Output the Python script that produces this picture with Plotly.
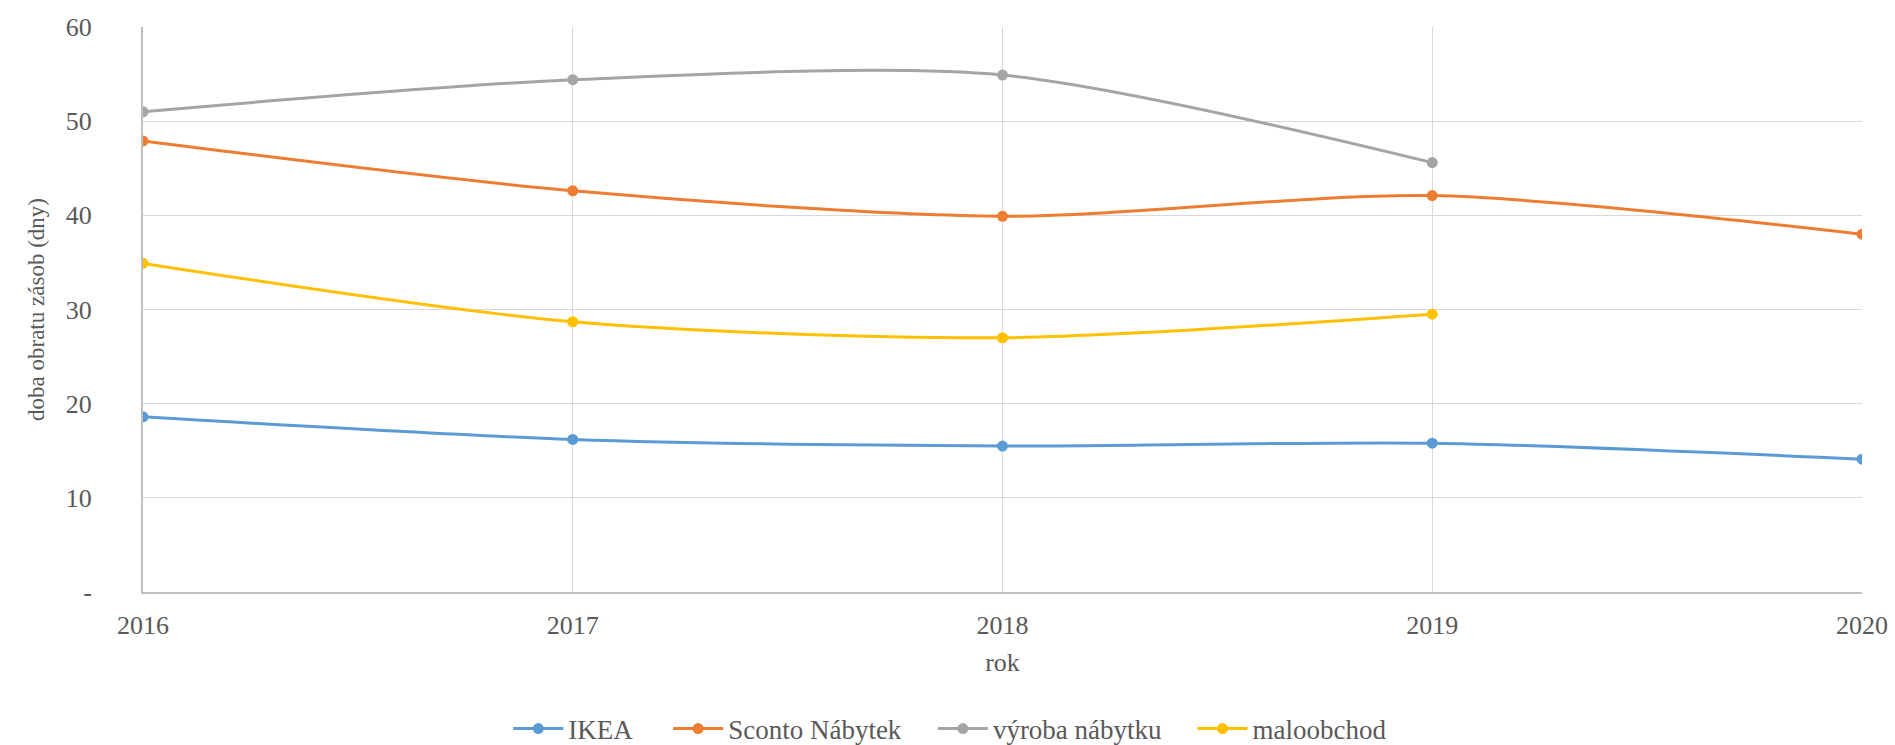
import plotly.graph_objects as go

years = [2016, 2017, 2018, 2019, 2020]
ikea = [18.6, 16.2, 15.5, 15.8, 14.1]
sconto = [47.9, 42.6, 39.9, 42.1, 38.0]
vyroba = [51.0, 54.4, 54.9, 45.6]
maloobchod = [34.9, 28.7, 27.0, 29.5]

series = [
    ("IKEA", years, ikea, "#5B9BD5"),
    ("Sconto Nábytek", years, sconto, "#ED7D31"),
    ("výroba nábytku", years[:4], vyroba, "#A5A5A5"),
    ("maloobchod", years[:4], maloobchod, "#FFC000"),
]
# legend entry left edges (paper fraction of plot width)
legend_x = [0.2125, 0.3055, 0.4595, 0.6105]

y_ticks = [0, 10, 20, 30, 40, 50, 60]
y_ticktext = ["-", "10", "20", "30", "40", "50", "60"]

FONT = "Liberation Serif"
GREY = "#595959"

fig = go.Figure()
legend_layout = {}
for i, (name, xs, ys, col) in enumerate(series):
    lname = "legend" if i == 0 else f"legend{i+1}"
    fig.add_trace(go.Scatter(
        x=xs, y=ys, name=name, mode="lines+markers", legend=lname,
        line=dict(color=col, width=3, shape="spline", smoothing=0.8),
        marker=dict(color=col, size=11),
    ))
    legend_layout[lname] = dict(
        orientation="h", x=legend_x[i], xanchor="left", y=-0.2425, yanchor="middle",
        font=dict(family=FONT, color=GREY, size=27), itemwidth=50,
        bgcolor="rgba(0,0,0,0)",
    )

tick_font = dict(family=FONT, color=GREY, size=26)
fig.update_layout(
    width=1895, height=745,
    paper_bgcolor="white", plot_bgcolor="white",
    margin=dict(l=143, r=33, t=27, b=153, autoexpand=False),
    font=dict(family=FONT, color=GREY, size=26),
    showlegend=True,
    xaxis=dict(range=[2016, 2020], tickvals=years, ticktext=[str(y) for y in years],
               tickfont=tick_font, automargin=False,
               showgrid=True, gridcolor="#d9d9d9", gridwidth=1,
               showline=True, linecolor="#bfbfbf", linewidth=2,
               zeroline=False, ticks="", ticklabelstandoff=9,
               title=dict(text="rok", font=dict(family=FONT, color=GREY, size=26), standoff=14)),
    yaxis=dict(range=[0, 60], tickvals=y_ticks, ticktext=y_ticktext,
               tickfont=tick_font, automargin=False,
               showgrid=True, gridcolor="#d9d9d9", gridwidth=1,
               showline=True, linecolor="#bfbfbf", linewidth=2,
               zeroline=False, ticks="", ticklabelstandoff=44,
               title=dict(text="doba obratu zásob (dny)", font=dict(family=FONT, color=GREY, size=23), standoff=15)),
    **legend_layout,
)
fig.write_html("out.html", config={"displayModeBar": False},
               post_script="document.body.style.margin='0';document.body.style.overflow='hidden';")
